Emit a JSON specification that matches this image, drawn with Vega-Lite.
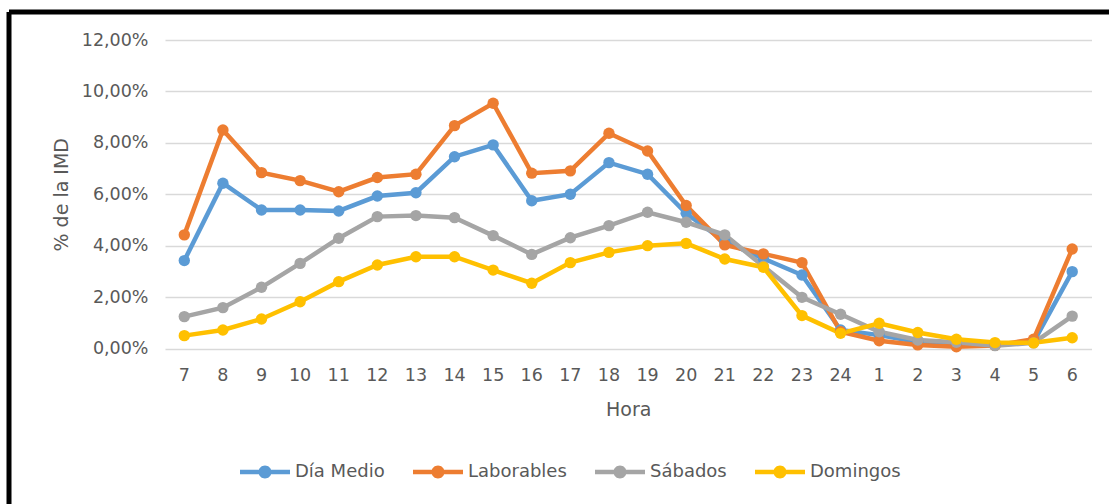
{
  "$schema": "https://vega.github.io/schema/vega-lite/v6.json",
  "width": 1100,
  "height": 492,
  "autosize": {"type": "none"},
  "padding": {"left": 9, "top": 12, "right": 0, "bottom": 0},
  "background": "white",
  "config": {
    "view": {"stroke": "black", "strokeWidth": 5, "strokeDash": [1100, 1592, 492, 0]},
    "font": "DejaVu Sans"
  },
  "datasets": {
    "imd": [
      {"hora": "7", "serie": "Día Medio", "valor": 3.42},
      {"hora": "8", "serie": "Día Medio", "valor": 6.43},
      {"hora": "9", "serie": "Día Medio", "valor": 5.39},
      {"hora": "10", "serie": "Día Medio", "valor": 5.39},
      {"hora": "11", "serie": "Día Medio", "valor": 5.35},
      {"hora": "12", "serie": "Día Medio", "valor": 5.93},
      {"hora": "13", "serie": "Día Medio", "valor": 6.06},
      {"hora": "14", "serie": "Día Medio", "valor": 7.46},
      {"hora": "15", "serie": "Día Medio", "valor": 7.92},
      {"hora": "16", "serie": "Día Medio", "valor": 5.75},
      {"hora": "17", "serie": "Día Medio", "valor": 6.0},
      {"hora": "18", "serie": "Día Medio", "valor": 7.23},
      {"hora": "19", "serie": "Día Medio", "valor": 6.78},
      {"hora": "20", "serie": "Día Medio", "valor": 5.26},
      {"hora": "21", "serie": "Día Medio", "valor": 4.15},
      {"hora": "22", "serie": "Día Medio", "valor": 3.5},
      {"hora": "23", "serie": "Día Medio", "valor": 2.86},
      {"hora": "24", "serie": "Día Medio", "valor": 0.72},
      {"hora": "1", "serie": "Día Medio", "valor": 0.52},
      {"hora": "2", "serie": "Día Medio", "valor": 0.25},
      {"hora": "3", "serie": "Día Medio", "valor": 0.15},
      {"hora": "4", "serie": "Día Medio", "valor": 0.13},
      {"hora": "5", "serie": "Día Medio", "valor": 0.25},
      {"hora": "6", "serie": "Día Medio", "valor": 2.99},
      {"hora": "7", "serie": "Laborables", "valor": 4.42},
      {"hora": "8", "serie": "Laborables", "valor": 8.5},
      {"hora": "9", "serie": "Laborables", "valor": 6.84},
      {"hora": "10", "serie": "Laborables", "valor": 6.53},
      {"hora": "11", "serie": "Laborables", "valor": 6.1},
      {"hora": "12", "serie": "Laborables", "valor": 6.65},
      {"hora": "13", "serie": "Laborables", "valor": 6.78},
      {"hora": "14", "serie": "Laborables", "valor": 8.67},
      {"hora": "15", "serie": "Laborables", "valor": 9.54},
      {"hora": "16", "serie": "Laborables", "valor": 6.82},
      {"hora": "17", "serie": "Laborables", "valor": 6.91},
      {"hora": "18", "serie": "Laborables", "valor": 8.37},
      {"hora": "19", "serie": "Laborables", "valor": 7.68},
      {"hora": "20", "serie": "Laborables", "valor": 5.56},
      {"hora": "21", "serie": "Laborables", "valor": 4.03},
      {"hora": "22", "serie": "Laborables", "valor": 3.68},
      {"hora": "23", "serie": "Laborables", "valor": 3.34},
      {"hora": "24", "serie": "Laborables", "valor": 0.65},
      {"hora": "1", "serie": "Laborables", "valor": 0.3},
      {"hora": "2", "serie": "Laborables", "valor": 0.14},
      {"hora": "3", "serie": "Laborables", "valor": 0.07},
      {"hora": "4", "serie": "Laborables", "valor": 0.12},
      {"hora": "5", "serie": "Laborables", "valor": 0.36},
      {"hora": "6", "serie": "Laborables", "valor": 3.87},
      {"hora": "7", "serie": "Sábados", "valor": 1.24},
      {"hora": "8", "serie": "Sábados", "valor": 1.59},
      {"hora": "9", "serie": "Sábados", "valor": 2.38},
      {"hora": "10", "serie": "Sábados", "valor": 3.31},
      {"hora": "11", "serie": "Sábados", "valor": 4.29},
      {"hora": "12", "serie": "Sábados", "valor": 5.13},
      {"hora": "13", "serie": "Sábados", "valor": 5.17},
      {"hora": "14", "serie": "Sábados", "valor": 5.09},
      {"hora": "15", "serie": "Sábados", "valor": 4.39},
      {"hora": "16", "serie": "Sábados", "valor": 3.66},
      {"hora": "17", "serie": "Sábados", "valor": 4.31},
      {"hora": "18", "serie": "Sábados", "valor": 4.78},
      {"hora": "19", "serie": "Sábados", "valor": 5.3},
      {"hora": "20", "serie": "Sábados", "valor": 4.91},
      {"hora": "21", "serie": "Sábados", "valor": 4.42},
      {"hora": "22", "serie": "Sábados", "valor": 3.2},
      {"hora": "23", "serie": "Sábados", "valor": 1.99},
      {"hora": "24", "serie": "Sábados", "valor": 1.33},
      {"hora": "1", "serie": "Sábados", "valor": 0.65},
      {"hora": "2", "serie": "Sábados", "valor": 0.33},
      {"hora": "3", "serie": "Sábados", "valor": 0.24},
      {"hora": "4", "serie": "Sábados", "valor": 0.11},
      {"hora": "5", "serie": "Sábados", "valor": 0.22},
      {"hora": "6", "serie": "Sábados", "valor": 1.26},
      {"hora": "7", "serie": "Domingos", "valor": 0.5},
      {"hora": "8", "serie": "Domingos", "valor": 0.72},
      {"hora": "9", "serie": "Domingos", "valor": 1.15},
      {"hora": "10", "serie": "Domingos", "valor": 1.82},
      {"hora": "11", "serie": "Domingos", "valor": 2.6},
      {"hora": "12", "serie": "Domingos", "valor": 3.25},
      {"hora": "13", "serie": "Domingos", "valor": 3.57},
      {"hora": "14", "serie": "Domingos", "valor": 3.57},
      {"hora": "15", "serie": "Domingos", "valor": 3.05},
      {"hora": "16", "serie": "Domingos", "valor": 2.54},
      {"hora": "17", "serie": "Domingos", "valor": 3.34},
      {"hora": "18", "serie": "Domingos", "valor": 3.74},
      {"hora": "19", "serie": "Domingos", "valor": 4.0},
      {"hora": "20", "serie": "Domingos", "valor": 4.09},
      {"hora": "21", "serie": "Domingos", "valor": 3.48},
      {"hora": "22", "serie": "Domingos", "valor": 3.16},
      {"hora": "23", "serie": "Domingos", "valor": 1.28},
      {"hora": "24", "serie": "Domingos", "valor": 0.59},
      {"hora": "1", "serie": "Domingos", "valor": 0.98},
      {"hora": "2", "serie": "Domingos", "valor": 0.62},
      {"hora": "3", "serie": "Domingos", "valor": 0.36},
      {"hora": "4", "serie": "Domingos", "valor": 0.23},
      {"hora": "5", "serie": "Domingos", "valor": 0.22},
      {"hora": "6", "serie": "Domingos", "valor": 0.42}
    ]
  },
  "data": {"name": "imd"},
  "encoding": {
    "x": {
      "field": "hora",
      "type": "ordinal",
      "sort": null,
      "scale": {"type": "band", "range": [156, 1082.5], "paddingInner": 0, "paddingOuter": 0},
      "axis": {
        "orient": "bottom",
        "offset": -155.5,
        "title": "Hora",
        "domain": false,
        "ticks": false,
        "tickSize": 0,
        "grid": false,
        "labelAngle": 0,
        "labelPadding": 18,
        "labelFontSize": 17.5,
        "labelColor": "#595959",
        "titleFontSize": 19,
        "titleFontWeight": "normal",
        "titleColor": "#595959",
        "titlePadding": 16
      }
    },
    "y": {
      "field": "valor",
      "type": "quantitative",
      "scale": {"domain": [0, 12], "range": [336.5, 28], "nice": false},
      "axis": {
        "orient": "left",
        "offset": -147,
        "title": "% de la IMD",
        "values": [0, 2, 4, 6, 8, 10, 12],
        "labelExpr": "replace(format(datum.value, '.2f'), '.', ',') + '%'",
        "domain": false,
        "ticks": false,
        "tickSize": 0,
        "grid": true,
        "gridColor": "#D9D9D9",
        "gridWidth": 1.3,
        "labelPadding": 8,
        "labelFontSize": 17.5,
        "labelColor": "#595959",
        "titleFontSize": 19,
        "titleFontWeight": "normal",
        "titleColor": "#595959",
        "titlePadding": 10
      }
    },
    "color": {
      "field": "serie",
      "type": "nominal",
      "sort": null,
      "scale": {
        "domain": ["Día Medio", "Laborables", "Sábados", "Domingos"],
        "range": ["#5B9BD5", "#ED7D31", "#A5A5A5", "#FFC000"]
      },
      "legend": {
        "orient": "none",
        "legendX": 231,
        "legendY": 435,
        "direction": "horizontal",
        "title": null,
        "symbolType": "M-1,-0.09L1,-0.09L1,0.09L-1,0.09Z M-0.26,0A0.26,0.26,0,1,1,0.26,0A0.26,0.26,0,1,1,-0.26,0Z",
        "symbolSize": 2500,
        "symbolStrokeWidth": 0,
        "labelFontSize": 18,
        "labelColor": "#595959",
        "labelOffset": 5,
        "columnPadding": 28,
        "encode": {
          "symbols": {
            "update": {
              "fill": {"scale": "color", "field": "value"},
              "stroke": {"value": "transparent"},
              "opacity": {"value": 1}
            }
          }
        }
      }
    }
  },
  "layer": [
    {"mark": {"type": "line", "strokeWidth": 4.5}},
    {"mark": {"type": "point", "filled": true, "size": 130, "opacity": 1}}
  ]
}
